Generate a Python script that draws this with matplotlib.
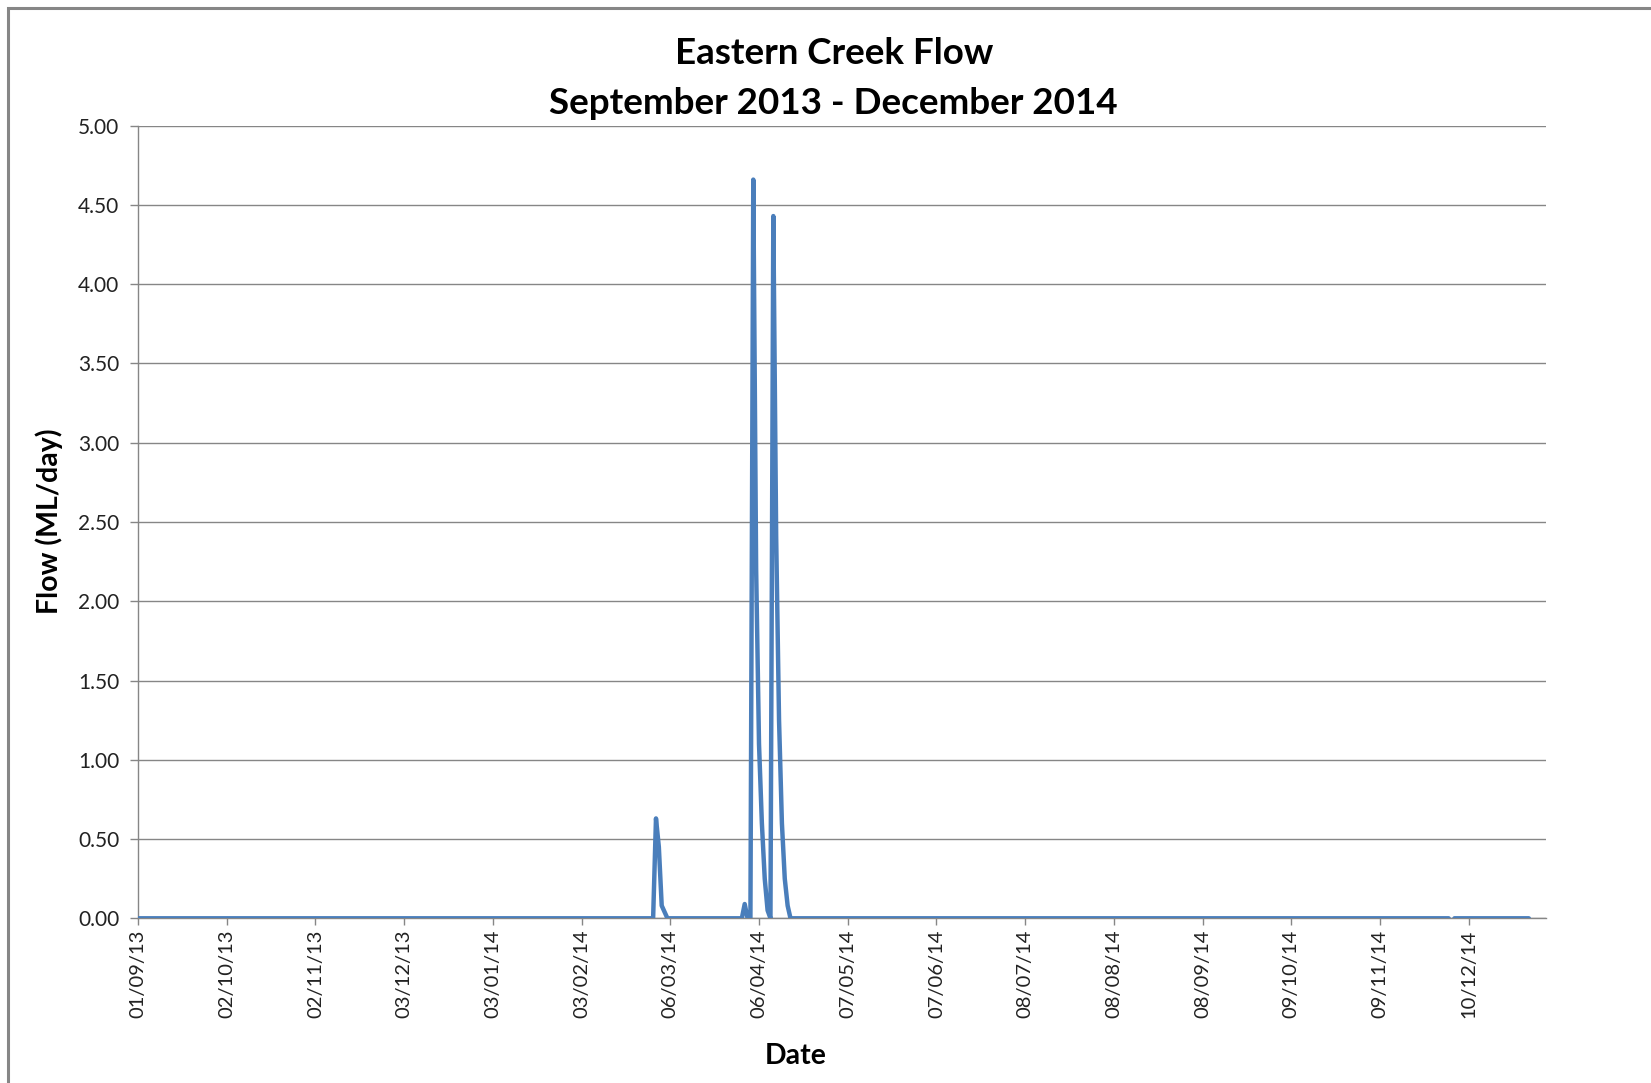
import matplotlib
matplotlib.use("Agg")
import matplotlib.pyplot as plt
import matplotlib.dates as mdates
import numpy as np
import pandas as pd
from matplotlib.patches import Rectangle

# ---- data ----
start_date = "2013-09-01"
end_date = "2014-12-31"
# days with flow above zero (all other days read as 0.00 ML/day)
event_dates = ["2014-03-01", "2014-03-02", "2014-03-03", "2014-03-04",
               "2014-04-01",
               "2014-04-04", "2014-04-05", "2014-04-06", "2014-04-07", "2014-04-08", "2014-04-09",
               "2014-04-11", "2014-04-12", "2014-04-13", "2014-04-14", "2014-04-15", "2014-04-16"]
event_values = [0.63, 0.45, 0.08, 0.04,
                0.09,
                4.66, 2.2, 1.1, 0.6, 0.25, 0.05,
                4.43, 2.4, 1.25, 0.6, 0.25, 0.08]
missing_dates = ["2014-12-04"]
tick_dates = ["2013-09-01", "2013-10-02", "2013-11-02", "2013-12-03", "2014-01-03",
              "2014-02-03", "2014-03-06", "2014-04-06", "2014-05-07", "2014-06-07",
              "2014-07-08", "2014-08-08", "2014-09-08", "2014-10-09", "2014-11-09",
              "2014-12-10"]
y_ticks = [0.0, 0.5, 1.0, 1.5, 2.0, 2.5, 3.0, 3.5, 4.0, 4.5, 5.0]

dates = pd.date_range(start_date, end_date, freq="D")
flow = pd.Series(0.0, index=dates)
flow.loc[pd.to_datetime(event_dates)] = event_values
flow.loc[pd.to_datetime(missing_dates)] = np.nan

# ---- figure ----
plt.rcParams['font.family'] = ['Lato', 'DejaVu Sans']
fig = plt.figure(figsize=(16.51, 10.83), dpi=100)
# chart frame
fig.patches.append(Rectangle((8/1651, -0.1), 1.2, 1.1 - 8/1083, transform=fig.transFigure,
                             fill=False, edgecolor='#868686', linewidth=2.2, zorder=0))

ax = fig.add_axes([138/1651, 1 - 918.3/1083, (1546 - 138)/1651, (918.3 - 125.7)/1083])

ax.plot(flow.index, flow.values, color='#4A7EBB', linewidth=3.2,
        solid_capstyle='round', solid_joinstyle='round', zorder=3)

x0 = pd.Timestamp(start_date)
ax.set_xlim(x0, x0 + pd.Timedelta(days=492))
ax.set_ylim(0, 5.0)
ax.set_yticks(y_ticks)
ax.set_yticklabels([f"{v:.2f}" for v in y_ticks])
ax.set_xticks(pd.to_datetime(tick_dates))
ax.xaxis.set_major_formatter(mdates.DateFormatter("%d/%m/%y"))

grid_c = '#868686'
ax.grid(axis='y', color=grid_c, linewidth=1.0)
ax.grid(axis='x', visible=False)
ax.set_axisbelow(True)
for s in ['top', 'right']:
    ax.spines[s].set_visible(False)
for s in ['left', 'bottom']:
    ax.spines[s].set_color(grid_c)
    ax.spines[s].set_linewidth(1.0)

ax.tick_params(axis='y', direction='out', length=5.5, width=1, color=grid_c,
               labelsize=15, pad=8, labelcolor='#222222')
ax.tick_params(axis='x', direction='out', length=5, width=1, color=grid_c,
               labelsize=14.5, pad=3, labelcolor='#222222', labelrotation=90)

fig.text(0.505, 1 - 53/1083, "Eastern Creek Flow", ha='center', va='center',
         fontsize=26.5, fontweight='bold', color='black')
fig.text(0.505, 1 - 103/1083, "September 2013 - December 2014", ha='center', va='center',
         fontsize=26.5, fontweight='bold', color='black')
fig.text(49.5/1651, 1 - 521/1083, "Flow (ML/day)", ha='center', va='center',
         rotation=90, fontsize=20.5, fontweight='bold')
fig.text(796/1651, 1 - 1056/1083, "Date", ha='center', va='center',
         fontsize=20.5, fontweight='bold')

fig.savefig("out.png", dpi=100)
